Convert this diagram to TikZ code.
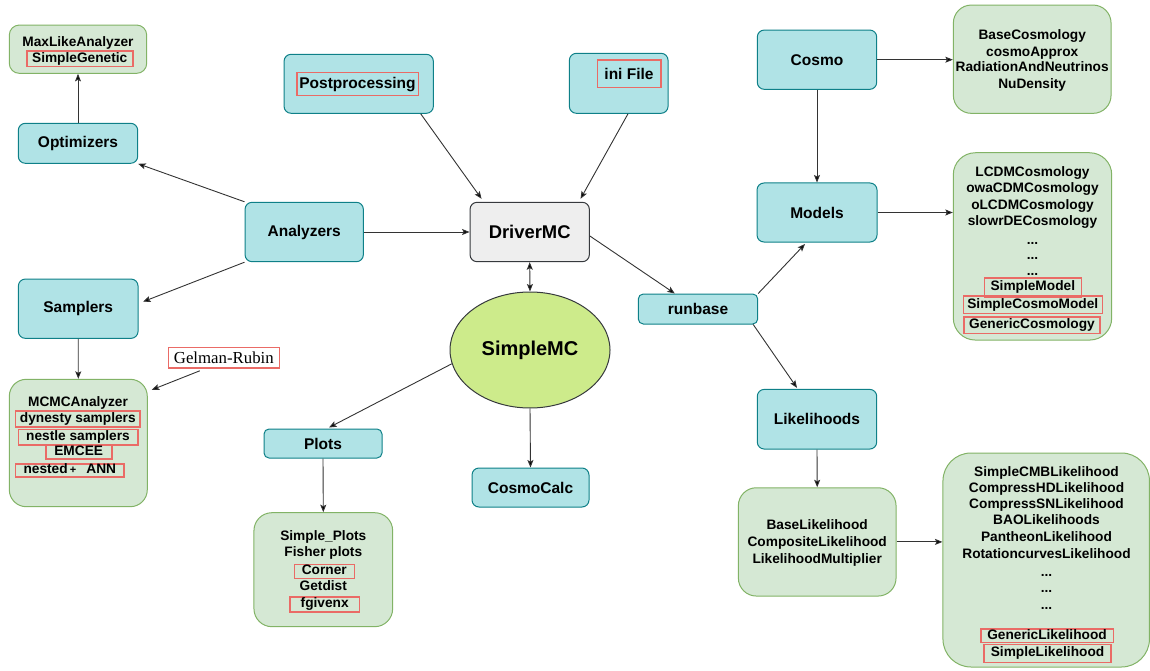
\documentclass[tikz,border=0pt]{standalone}
\usepackage{fontspec}
\setmainfont{Liberation Sans}
\newfontfamily\gelmanfont{Liberation Serif}
\usetikzlibrary{arrows.meta, shapes.geometric, calc}
\definecolor{cyanf}{HTML}{B0E3E6}
\definecolor{cyanb}{HTML}{0E8088}
\definecolor{greenf}{HTML}{D5E8D4}
\definecolor{greenb}{HTML}{82B366}
\definecolor{grayf}{HTML}{EEEEEE}
\definecolor{grayb}{HTML}{36393D}
\definecolor{limef}{HTML}{CDEB8B}
\definecolor{hilite}{HTML}{EA6B66}
\definecolor{linec}{HTML}{333333}

\begin{document}
\begin{tikzpicture}[x=1pt,y=-1pt,
  >={Stealth[length=7.5pt,width=6pt,inset=1.5pt,fill=black]},
  lblfont/.style={font=\fontsize{15.5}{18}\selectfont\bfseries},
  cbox/.style={rectangle, rounded corners=7pt, draw=cyanb, fill=cyanf,
    line width=1pt, inner sep=0pt, lblfont},
  gbox/.style={rectangle, rounded corners=#1, draw=greenb, fill=greenf,
    line width=1pt, inner sep=0pt},
  item/.style={font=\fontsize{13.7}{16}\selectfont\bfseries, inner sep=0pt,
    text height=9.9pt, text depth=2.9pt},
  dots/.style={font=\fontsize{13.7}{16}\selectfont\bfseries, inner sep=0pt, anchor=base},
  rbox/.style={draw=hilite, line width=1.6pt, inner sep=0pt},
  arr/.style={draw=linec, line width=0.9pt, ->},
]
\useasboundingbox (0,0) rectangle (1150,671);

% ---- left column: optimizers and samplers ----
\node[gbox=10pt, minimum width=137.4pt, minimum height=48.3pt] (maxl) at (78,49.2) {};
\node[item] (maxl1) at (78,42.7) {MaxLikeAnalyzer};
\node[item, rbox, minimum width=106pt, minimum height=15.7pt] (maxl2) at (79.7,58.8) {SimpleGenetic};

\node[cbox, minimum width=119.4pt, minimum height=40pt] (opt) at (78,143.3) {Optimizers};
\node[cbox, minimum width=118.3pt, minimum height=59.4pt] (ana) at (304.2,232) {Analyzers};
\node[cbox, minimum width=119.7pt, minimum height=59.3pt] (samp) at (78.2,308.7) {Samplers};

\node[gbox=17pt, minimum width=138pt, minimum height=127.4pt] (mcmc) at (78.3,443) {};
\node[item] (mc1) at (78,402.7) {MCMCAnalyzer};
\node[item, rbox, minimum width=124.3pt, minimum height=16pt] (mc2) at (77.8,418.7) {dynesty samplers};
\node[item, rbox, minimum width=119.4pt, minimum height=15.7pt] (mc3) at (78,437.2) {nestle samplers};
\node[item, rbox, minimum width=66pt, minimum height=14pt] (mc4) at (78.7,452) {EMCEE};
\node[item, rbox, minimum width=108.3pt, minimum height=12.7pt] (mc5) at (69.8,470.3)
  {nested\,{\fontsize{11}{11}\selectfont+}\hspace{10pt}ANN\hspace{10pt}};

\node[rbox, minimum width=111pt, minimum height=20.4pt,
  font=\gelmanfont\fontsize{16.8}{18}\selectfont] (gel) at (223.8,357.5) {Gelman-Rubin};

% ---- centre: driver and SimpleMC ----
\node[cbox, minimum width=149.3pt, minimum height=59pt] (post) at (358.7,83.8) {};
\node[rbox, lblfont, minimum width=121.6pt, minimum height=23pt] (postl) at (357.5,84.2) {Postprocessing};
\node[cbox, minimum width=98.7pt, minimum height=60pt] (ini) at (618.7,83.3) {};
\node[rbox, lblfont, minimum width=63.4pt, minimum height=27.3pt] (inil) at (629,73.7) {ini File};

\node[rectangle, rounded corners=7pt, draw=grayb, fill=grayf, line width=1pt,
  minimum width=119.3pt, minimum height=59.4pt,
  font=\fontsize{18.4}{20}\selectfont\bfseries] (drv) at (529.7,232) {DriverMC};
\node[ellipse, draw=grayb, fill=limef, line width=1pt, inner sep=0pt,
  minimum width=160pt, minimum height=116pt,
  font=\fontsize{20}{22}\selectfont\bfseries] (smc) at (530,350) {SimpleMC};

\node[cbox, rounded corners=5pt, minimum width=118pt, minimum height=29pt] (plots) at (323,443.5) {Plots};
\node[cbox, minimum width=117pt, minimum height=39pt] (cc) at (530.5,487.5) {CosmoCalc};

\node[gbox=18pt, minimum width=138.7pt, minimum height=114pt] (plist) at (323.3,569.7) {};
\node[item] (pl1) at (323.3,537.3) {Simple\_Plots};
\node[item] (pl2) at (323.3,553.3) {Fisher plots};
\node[item, rbox, minimum width=60pt, minimum height=14pt] (pl3) at (324.3,571.3) {Corner};
\node[item] (pl4) at (323.3,587.3) {Getdist};
\node[item, rbox, minimum width=69.3pt, minimum height=15pt] (pl5) at (324.7,604.2) {fgivenx};

% ---- right part: runbase, cosmology and likelihoods ----
\node[cbox, rounded corners=5pt, minimum width=119.4pt, minimum height=30pt] (run) at (698,309) {runbase};

\node[cbox, minimum width=119.4pt, minimum height=59.3pt] (cosmo) at (817,59.7) {Cosmo};
\node[gbox=18pt, minimum width=157.7pt, minimum height=108.3pt] (clist) at (1032.2,59.2) {};
\node[item] (cl1) at (1032.2,35.7) {BaseCosmology};
\node[item] (cl2) at (1032.2,52.7) {cosmoApprox};
\node[item] (cl3) at (1032.2,68.3) {RadiationAndNeutrinos};
\node[item] (cl4) at (1032.2,85) {NuDensity};

\node[cbox, minimum width=120pt, minimum height=59pt] (mod) at (817,212.5) {Models};
\node[gbox=22pt, minimum width=158.4pt, minimum height=187.3pt] (mlist) at (1032.5,246.4) {};
\node[item] (ml1) at (1032.5,172.7) {LCDMCosmology};
\node[item] (ml2) at (1032.5,189.3) {owaCDMCosmology};
\node[item] (ml3) at (1032.5,206) {oLCDMCosmology};
\node[item] (ml4) at (1032.5,222.3) {slowrDECosmology};
\node[dots] (ml5) at (1032.5,244.3) {...};
\node[dots] (ml6) at (1032.5,259.8) {...};
\node[dots] (ml7) at (1032.5,275.3) {...};
\node[item, rbox, minimum width=97pt, minimum height=19pt] (ml8) at (1032.8,287.2) {SimpleModel};
\node[item, rbox, minimum width=139pt, minimum height=17.6pt] (ml9) at (1032.8,304.5) {SimpleCosmoModel};
\node[item, rbox, minimum width=136pt, minimum height=16.6pt] (ml10) at (1032,325) {GenericCosmology};

\node[cbox, minimum width=119.4pt, minimum height=59.7pt] (lik) at (817,419.2) {Likelihoods};
\node[gbox=18pt, minimum width=157.7pt, minimum height=108.3pt] (base) at (817.2,541.9) {};
\node[item] (bl1) at (817.2,525.7) {BaseLikelihood};
\node[item] (bl2) at (817.2,542.7) {CompositeLikelihood};
\node[item] (bl3) at (817.2,560) {LikelihoodMultiplier};

\node[gbox=28pt, minimum width=206.5pt, minimum height=214pt] (llist) at (1046.2,560) {};
\node[item] (ll1) at (1046.5,472.7) {SimpleCMBLikelihood};
\node[item] (ll2) at (1046.5,488.5) {CompressHDLikelihood};
\node[item] (ll3) at (1046.5,504.8) {CompressSNLikelihood};
\node[item] (ll4) at (1046.5,521.3) {BAOLikelihoods};
\node[item] (ll5) at (1046.5,538.3) {PantheonLikelihood};
\node[item] (ll6) at (1046.5,555) {RotationcurvesLikelihood};
\node[dots] (ll7) at (1046.5,576) {...};
\node[dots] (ll8) at (1046.5,592.7) {...};
\node[dots] (ll9) at (1046.5,609.3) {...};
\node[item, rbox, minimum width=132.6pt, minimum height=13.7pt] (ll10) at (1047,635.8) {GenericLikelihood};
\node[item, rbox, minimum width=127pt, minimum height=18pt] (ll11) at (1047.5,653.3) {SimpleLikelihood};

% ---- connectors ----
\draw[arr] (opt.north) -- (maxl.south);
\draw[arr] (ana.north west) -- (opt.south east);
\draw[arr] (ana.south west) -- ($(samp.east)+(4.5,-7)$);
\draw[arr] (samp.south) -- (mcmc.north);
\draw[arr] ($(gel.south)+(-24,2.3)$) -- ($(mcmc.north east)+(4,11)$);
\draw[arr] (ana.east) -- (drv.west);
\draw[arr] ($(post.south)+(62,0)$) -- ($(drv.north west)+(12,-3)$);
\draw[arr] ($(ini.south)+(9.3,0)$) -- ($(drv.north east)+(-9.3,-3)$);
\draw[arr, <->] (drv.south) -- (smc.north);
\draw[arr] ($(drv.east)+(0,4)$) -- ($(run.north west)+(37,0)$);
\draw[arr] (smc.190) -- ($(plots.north)+(6,-1)$);
\draw[arr] (smc.south) -- (cc.north);
\draw[arr] (plots.south) -- (plist.north);
\draw[arr] (run.north east) -- ($(mod.south)+(-12,1.5)$);
\draw[arr] ($(run.south east)+(-5,0)$) -- ($(lik.north)+(-20,-1)$);
\draw[arr] (cosmo.east) -- (cosmo.east -| clist.west);
\draw[arr] (cosmo.south) -- (mod.north);
\draw[arr] (mod.east) -- (mod.east -| mlist.west);
\draw[arr] (lik.south) -- (base.north);
\draw[arr] (base.east) -- (base.east -| llist.west);
\end{tikzpicture}
\end{document}
